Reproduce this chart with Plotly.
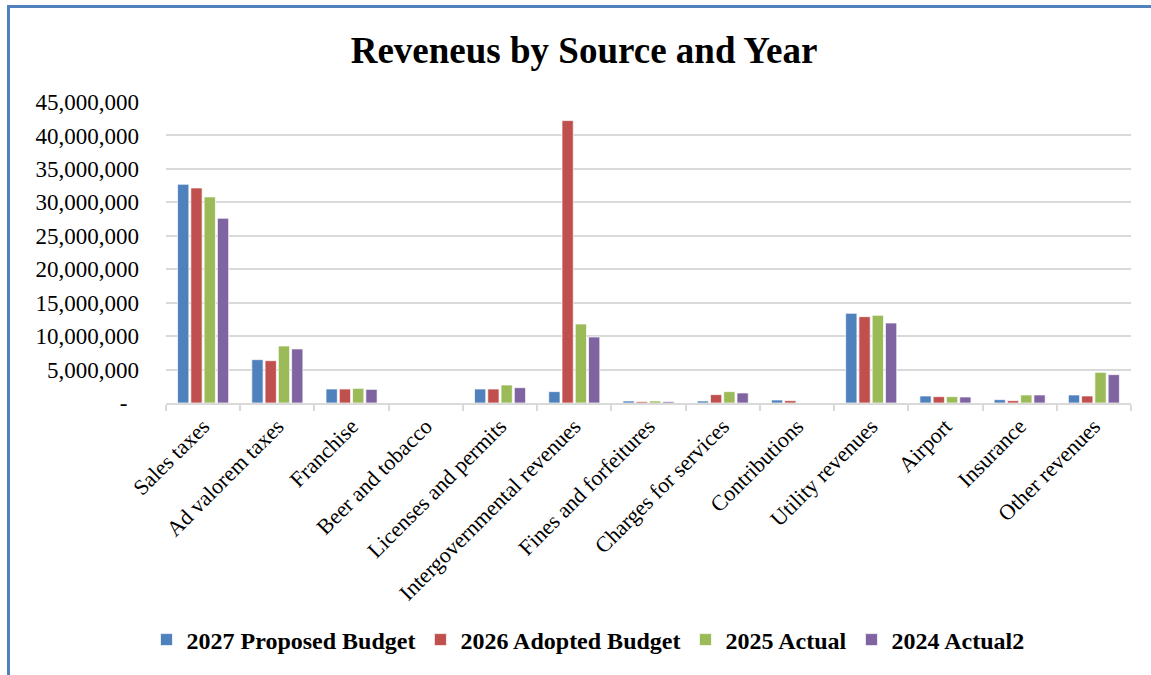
import plotly.graph_objects as go

# Revenue sources (x categories)
categories = [
    "Sales taxes", "Ad valorem taxes", "Franchise", "Beer and tobacco",
    "Licenses and permits", "Intergovernmental revenues", "Fines and forfeitures",
    "Charges for services", "Contributions", "Utility revenues", "Airport",
    "Insurance", "Other revenues",
]

# Revenue by year, in dollars
proposed_2027 = [32700000, 6480000, 2090000, 0, 2090000, 1700000, 300000,
                 300000, 450000, 13410000, 1050000, 500000, 1200000]
adopted_2026 = [32150000, 6330000, 2090000, 0, 2090000, 42220000, 200000,
                1250000, 350000, 12910000, 950000, 350000, 1050000]
actual_2025 = [30810000, 8520000, 2190000, 0, 2690000, 11810000, 300000,
               1700000, 0, 13110000, 950000, 1200000, 4590000]
actual_2024 = [27620000, 8080000, 2040000, 0, 2290000, 9870000, 200000,
               1500000, 0, 11960000, 900000, 1200000, 4240000]

series_names = ["2027 Proposed Budget", "2026 Adopted Budget", "2025 Actual", "2024 Actual2"]
series_values = [proposed_2027, adopted_2026, actual_2025, actual_2024]
series_colors = ["#4F81BD", "#C0504D", "#9BBB59", "#8064A2"]

# Y axis ticks
y_tickvals = [0, 5000000, 10000000, 15000000, 20000000, 25000000,
              30000000, 35000000, 40000000, 45000000]
y_ticktext = ["-\u00a0\u00a0", "5,000,000", "10,000,000", "15,000,000", "20,000,000",
              "25,000,000", "30,000,000", "35,000,000", "40,000,000", "45,000,000"]

W, H = 1151, 675
ML, MR, MT, MB = 166, 20, 102, 272
FONT = "Times New Roman, Liberation Serif, serif"
GRID = "#D9D9D9"

fig = go.Figure()
for name, vals, col in zip(series_names, series_values, series_colors):
    fig.add_trace(go.Bar(
        x=categories, y=vals, name=name,
        marker=dict(color=col, line=dict(color="rgba(255,255,255,0.7)", width=1)),
    ))

# plot-area geometry, used to place the frame lines in paper coordinates
pw = W - ML - MR
ph = H - MT - MB


def px_x(px):
    return (px - ML) / pw


def px_y(py):
    return (H - MB - py) / ph


frame = "#4F81BD"
shapes = [
    dict(type="line", xref="paper", yref="paper",
         x0=px_x(8.5), x1=px_x(8.5), y0=px_y(5), y1=px_y(H),
         line=dict(color=frame, width=3)),
    dict(type="line", xref="paper", yref="paper",
         x0=px_x(7), x1=px_x(W), y0=px_y(6.5), y1=px_y(6.5),
         line=dict(color=frame, width=3)),
]

fig.update_layout(
    width=W, height=H,
    margin=dict(l=ML, r=MR, t=MT, b=MB, autoexpand=False),
    paper_bgcolor="white", plot_bgcolor="white",
    font=dict(family=FONT, color="black", size=22),
    title=dict(text="<b>Reveneus by Source and Year</b>",
               x=(350 + 818) / 2 / W, xanchor="center", xref="container",
               y=1 - 50 / H, yanchor="middle", yref="container",
               font=dict(family=FONT, size=37, color="black")),
    barmode="group", bargap=0.285, bargroupgap=0.15,
    showlegend=True,
    legend=dict(orientation="h", xref="container", yref="container",
                x=588 / W, xanchor="center", y=1 - 640 / H, yanchor="middle",
                font=dict(family=FONT, size=24, color="black", weight="bold"),
                itemwidth=30, traceorder="normal"),
    shapes=shapes,
)

fig.update_xaxes(
    type="category", tickangle=-45, automargin=False,
    showline=True, linecolor=GRID, linewidth=1.5,
    ticks="outside", tickson="boundaries", ticklen=6, tickcolor=GRID, tickwidth=1.5,
    showgrid=False, tickfont=dict(family=FONT, size=22, color="black"),
)
fig.update_yaxes(
    range=[0, 45000000], tickvals=y_tickvals, ticktext=y_ticktext, automargin=False,
    showgrid=True, gridcolor=GRID, gridwidth=1.5, zeroline=False, showline=False,
    ticks="", ticklabelstandoff=26, tickfont=dict(family=FONT, size=23, color="black"),
)

fig.write_html("out.html")
